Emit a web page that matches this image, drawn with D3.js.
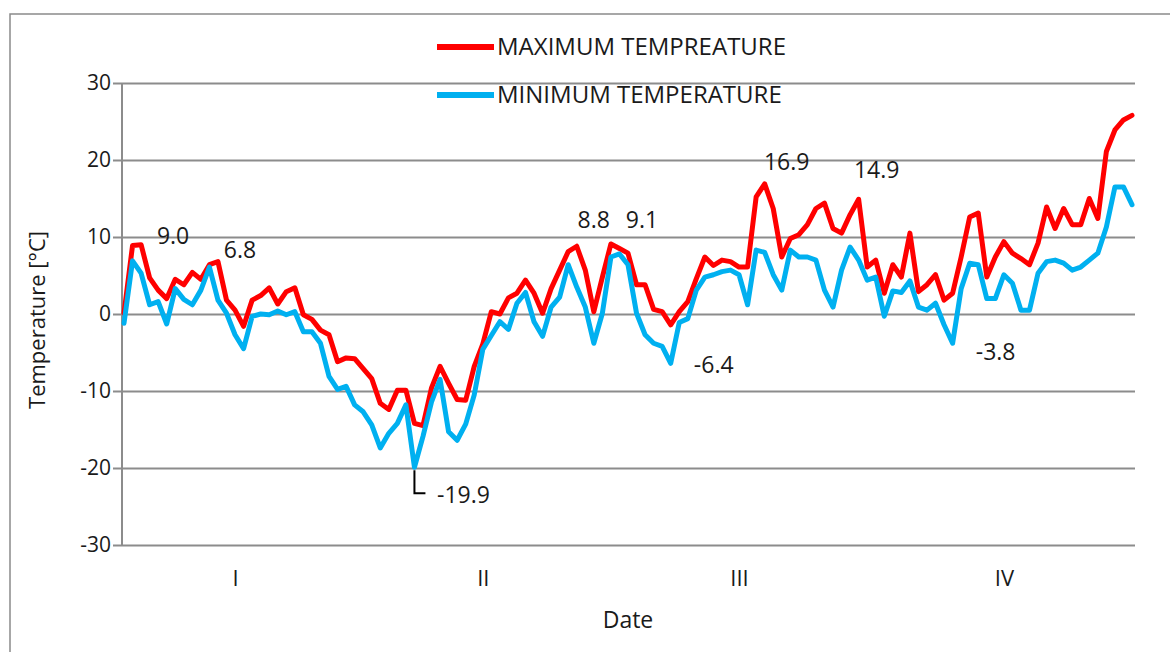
<!DOCTYPE html>
<html>
<head>
<meta charset="utf-8">
<script src="https://cdn.jsdelivr.net/npm/d3@7"></script>
<style>
  html, body { margin: 0; padding: 0; background: #fff; }
  svg { display: block; }
  text { font-family: "Open Sans", "Noto Sans", sans-serif; fill: #1a1a1a; }
</style>
</head>
<body>
<svg id="chart" width="1170" height="652"></svg>
<script>
// ---- data ----
const maxTemp = [0.1, 8.9, 9.0, 4.7, 3.1, 2.0, 4.5, 3.8, 5.4, 4.5,
  6.4, 6.8, 1.8, 0.5, -1.6, 1.8, 2.4, 3.4, 1.3, 2.9,
  3.4, -0.1, -0.7, -2.1, -2.7, -6.2, -5.7, -5.8, -7.1, -8.4,
  -11.6, -12.4, -9.9, -9.9, -14.2, -14.5, -9.6, -6.8, -9.0, -11.1,
  -11.2, -6.8, -3.9, 0.3, 0.0, 2.1, 2.7, 4.4, 2.7, 0.1,
  3.3, 5.7, 8.1, 8.8, 5.7, 0.3, 4.8, 9.1, 8.5, 7.9,
  3.8, 3.8, 0.6, 0.3, -1.4, 0.3, 1.6, 4.6, 7.4, 6.3,
  7.0, 6.8, 6.1, 6.1, 15.2, 16.9, 13.7, 7.4, 9.8, 10.3,
  11.6, 13.7, 14.4, 11.1, 10.5, 12.9, 14.9, 6.1, 7.0, 2.7,
  6.4, 4.8, 10.5, 2.9, 3.8, 5.1, 1.8, 2.7, 7.4, 12.6,
  13.1, 4.8, 7.4, 9.4, 7.9, 7.2, 6.4, 9.2, 13.9, 11.1,
  13.7, 11.6, 11.6, 15.0, 12.4, 21.1, 23.9, 25.2, 25.8];

const minTemp = [-1.2, 6.9, 5.3, 1.2, 1.6, -1.3, 3.3, 1.9, 1.2, 3.1,
  6.1, 1.8, 0.1, -2.7, -4.5, -0.3, 0.0, -0.1, 0.4, -0.1,
  0.3, -2.3, -2.3, -3.8, -8.1, -9.8, -9.4, -11.8, -12.7, -14.4,
  -17.4, -15.5, -14.2, -11.8, -19.9, -15.9, -11.4, -8.5, -15.3, -16.4,
  -14.3, -10.5, -4.6, -2.8, -1.0, -2.0, 1.4, 2.8, -1.0, -2.9,
  0.9, 2.2, 6.4, 3.5, 0.9, -3.8, 0.1, 7.4, 7.8, 6.4,
  0.1, -2.7, -3.8, -4.2, -6.4, -1.1, -0.6, 3.1, 4.8, 5.1,
  5.5, 5.7, 5.1, 1.2, 8.3, 8.0, 5.1, 3.1, 8.3, 7.4,
  7.4, 7.0, 3.1, 0.9, 5.7, 8.7, 7.0, 4.4, 4.8, -0.3,
  3.0, 2.8, 4.3, 0.9, 0.5, 1.4, -1.4, -3.8, 3.3, 6.6,
  6.4, 2.0, 2.0, 5.1, 4.0, 0.5, 0.5, 5.3, 6.8, 7.0,
  6.6, 5.7, 6.1, 7.0, 7.9, 11.3, 16.5, 16.5, 14.2];

const seriesNames = ["MAXIMUM TEMPREATURE", "MINIMUM TEMPERATURE"];
const monthLabels = ["I", "II", "III", "IV"];
const monthTickDays = [13, 42, 72, 103];
const yTicks = [30, 20, 10, 0, -10, -20, -30];

// annotated points: day index, series (0 = max, 1 = min)
const annotDays = [2, 11, 53, 57, 75, 86, 34, 64, 97];
const annotSeries = [0, 0, 0, 0, 0, 0, 1, 1, 1];
// label offsets (px) from the point (styling, not data)
const annotOffsets = [[32, -9], [22, -12], [17, -26], [31, -24], [22, -22], [18, -29], [49, 28], [43, 2], [43, 9]];

// hyphen-minus formatting like the reference
const fmt1 = v => d3.format(".1f")(v).replace("\u2212", "-");
const fmtInt = v => d3.format("d")(v).replace("\u2212", "-");

// ---- layout ----
const svg = d3.select("#chart");
const plot = { left: 122, right: 1135, top: 83, bottom: 545 };

const x = d3.scaleLinear().domain([0, maxTemp.length - 1]).range([124, 1132]);
const y = d3.scaleLinear().domain([-30, 30]).range([plot.bottom, plot.top]);

// outer chart border
svg.append("rect")
  .attr("x", 10).attr("y", 14).attr("width", 1170).attr("height", 660)
  .attr("fill", "none").attr("stroke", "#8a8a8a").attr("stroke-width", 1.5);

// gridlines + y tick labels via axis
const yAxis = d3.axisLeft(y).tickValues(yTicks)
  .tickSize(0).tickPadding(10).tickFormat(fmtInt);
const gy = svg.append("g").attr("transform", `translate(${plot.left - 9},0)`).call(yAxis);
gy.select(".domain").remove();
gy.selectAll(".tick line").attr("stroke", "#8c8c8c").attr("stroke-width", 2)
  .attr("x1", 0).attr("x2", plot.right - plot.left + 9);
gy.selectAll(".tick text").attr("font-size", 21).attr("fill", "#1a1a1a")
  .attr("font-family", "\"Open Sans\", sans-serif").attr("x", -2);

// y axis line
svg.append("line").attr("x1", plot.left).attr("x2", plot.left)
  .attr("y1", plot.top).attr("y2", plot.bottom)
  .attr("stroke", "#8c8c8c").attr("stroke-width", 2);

// x category labels
const xAxis = d3.axisBottom(x).tickValues(monthTickDays).tickSize(0).tickPadding(25)
  .tickFormat((d, i) => monthLabels[i]);
const gx = svg.append("g").attr("transform", `translate(0,${plot.bottom})`).call(xAxis);
gx.select(".domain").remove();
gx.selectAll(".tick text").attr("font-size", 22).attr("fill", "#1a1a1a")
  .attr("font-family", "\"Open Sans\", sans-serif");

// axis titles
svg.append("text").attr("x", 628).attr("y", 620).attr("text-anchor", "middle")
  .attr("dy", "0.35em").attr("font-size", 23).text("Date");
svg.append("text").attr("transform", "translate(37,320) rotate(-90)")
  .attr("text-anchor", "middle").attr("dy", "0.35em").attr("font-size", 22).text("Temperature [°C]");

// lines (min drawn on top, like the reference)
const colors = ["#ff0000", "#00b0f0"];
const line = d3.line().x((d, i) => x(i)).y(d => y(d));
[maxTemp, minTemp].forEach((s, k) => {
  svg.append("path").datum(s)
    .attr("d", line)
    .attr("fill", "none").attr("stroke", colors[k]).attr("stroke-width", 5)
    .attr("stroke-linejoin", "round").attr("stroke-linecap", "round");
});

// legend
const legendY = [47, 95];
seriesNames.forEach((name, k) => {
  svg.append("line").attr("x1", 437).attr("x2", 494)
    .attr("y1", legendY[k]).attr("y2", legendY[k])
    .attr("stroke", colors[k]).attr("stroke-width", 6);
  svg.append("text").attr("x", 497).attr("y", legendY[k]).attr("dy", "0.35em")
    .attr("font-size", 24).text(name);
});

// annotations
const seriesArr = [maxTemp, minTemp];
annotDays.forEach((d, j) => {
  const v = seriesArr[annotSeries[j]][d];
  const px = x(d), py = y(v);
  const [dx, dy] = annotOffsets[j];
  svg.append("text").attr("x", px + dx).attr("y", py + dy)
    .attr("text-anchor", "middle").attr("dy", "0.35em")
    .attr("font-size", 23).text(fmt1(v));
  if (annotSeries[j] === 1 && v === d3.min(minTemp)) {
    svg.append("path")
      .attr("d", `M${px},${py + 3}V${py + dy - 2}H${px + 11}`)
      .attr("fill", "none").attr("stroke", "#000").attr("stroke-width", 2);
  }
});
</script>
</body>
</html>
